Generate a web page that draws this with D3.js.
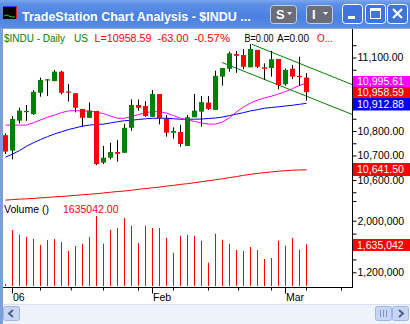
<!DOCTYPE html>
<html><head><meta charset="utf-8">
<script src="https://cdn.jsdelivr.net/npm/d3@7"></script>
<style>
html,body{margin:0;padding:0;background:#fff;overflow:hidden}
svg{display:block}
text{font-family:"Liberation Sans",Arial,sans-serif}
</style></head><body>
<svg id="chart" width="410" height="324"></svg>
<script>
// Daily bars, 30 Dec 2005 – 6 Mar 2006
const dates = ["12/30","1/3","1/4","1/5","1/6","1/9","1/10","1/11","1/12","1/13","1/17","1/18","1/19","1/20","1/23","1/24","1/25","1/26","1/27","1/30","1/31",
  "2/1","2/2","2/3","2/6","2/7","2/8","2/9","2/10","2/13","2/14","2/15","2/16","2/17","2/21","2/22","2/23","2/24","2/27","2/28","3/1","3/2","3/3","3/6"];
const opens  = [10783,10720,10842,10880,10869,10956,11008,11004,11042,10961,10954,10890,10854,10882,10671,10691,10714,10711,10813,10906,10902,
  10858,10951,10849,10793,10796,10739,10856,10879,10916,10886,11022,11054,11114,11110,11060,11131,11060,11057,11094,10991,11054,11025,11018];
const highs  = [10790,10861,10895,10906,10967,11018,11012,11049,11046,10992,10955,10890,10916,10882,10739,10752,10763,10829,10929,10929,10922,
  10967,10951,10865,10815,10825,10865,10951,10943,10943,11046,11058,11124,11127,11134,11155,11131,11076,11127,11094,11055,11069,11103,11036];
const lows   = [10706,10684,10831,10841,10866,10940,10943,11003,10950,10920,10876,10818,10853,10661,10665,10684,10675,10711,10801,10883,10858,
  10858,10827,10777,10769,10736,10739,10856,10818,10886,10886,10985,11042,11037,11052,11060,11057,11008,11022,10970,10985,11012,10984,10924];
const closes = [10716,10849,10883,10882,10960,11008,11011,11042,10956,10958,10895,10854,10883,10665,10691,10714,10707,10813,10906,10895,10861,
  10951,10852,10793,10800,10747,10856,10883,10918,10890,11025,11057,11117,11107,11062,11135,11062,11054,11093,10988,11049,11022,11020,10958.59];

// Moving averages (magenta, blue, red)
const maFast = [10824,10824,10824,10824,10834,10845,10856,10865,10875,10882,10883,10882,10881,10877,10871,10861,10852,10852,10859,10867,10875,
  10879,10879,10873,10863,10852,10845,10839,10833,10828,10828,10837,10854,10878,10898,10914,10926,10935,10942,10951,10961,10973,10986,10995.61];
const maMid  = [10693,10706,10720,10738,10752,10765,10777,10788,10797,10806,10813,10820,10824,10827,10828,10833,10838,10842,10844,10847,10850,
  10852,10852,10852,10850,10848,10848,10848,10849,10851,10853,10857,10863,10869,10875,10882,10887,10893,10896,10899,10902,10905,10909,10912.88];
const maSlow = [10518,10520,10522,10523,10525,10527,10529,10531,10533,10535,10537,10540,10542,10544,10547,10550,10553,10555,10558,10562,10565,
  10568,10571,10575,10578,10582,10585,10589,10593,10597,10601,10605,10610,10614,10619,10623,10627,10630,10633,10636,10638,10640,10641,10641.50];

const volumes = [1018600,1855800,1782900,1751900,1716300,1623300,1700800,1716300,1669800,1530200,1607700,1643400,1747300,2072900,1643400,1855800,
  1886800,2041900,1922500,1654300,1922500,1886800,1886800,1731800,1503900,1767400,1778300,1767400,1689900,1348800,1798400,1705400,1643400,
  1545700,1530200,1592300,1545700,1406200,1421700,1689900,1612400,1731800,1550400,1635042];

// Down-sloping channel drawn as [bar, price] end points
const channelUpper = [[35.2,11154],[50,10984]];
const channelLower = [[30.9,11080],[50,10862]];

const priceTicks = [11100,10800,10700,10600];
const priceMinorTicks = [11150,11050,11000,10950,10900,10850,10750,10650,10550];
const volumeTicks = [1200000,2000000];
const volumeMinorTicks = [1400000,1600000,1800000];
const monthTickBars = [1,21,40];
const monthTickLabels = ["06","Feb","Mar"];
const weekTickBars = [5,9.4,14,19,24,29,33.3,38,43,48];

const n = closes.length;
const svg = d3.select("#chart");

// ---- window chrome ----
const defs = svg.append("defs");
const tg = defs.append("linearGradient").attr("id","titleGrad").attr("x1",0).attr("y1",0).attr("x2",0).attr("y2",1);
tg.append("stop").attr("offset","0%").attr("stop-color","#7aa6ee");
tg.append("stop").attr("offset","15%").attr("stop-color","#5c8fe6");
tg.append("stop").attr("offset","60%").attr("stop-color","#4a80df");
tg.append("stop").attr("offset","100%").attr("stop-color","#5a8fe6");
svg.append("rect").attr("x",0).attr("y",0).attr("width",410).attr("height",28).attr("fill","url(#titleGrad)");
svg.append("rect").attr("x",0).attr("y",28).attr("width",3).attr("height",296).attr("fill","#7c9fd8");
svg.append("rect").attr("x",3).attr("y",28).attr("width",407).attr("height",1).attr("fill","#8aa8d8");

// app icon
const icon = svg.append("g");
icon.append("rect").attr("x",3).attr("y",6).attr("width",14).attr("height",13).attr("fill","#000");
icon.append("rect").attr("x",3).attr("y",6).attr("width",14).attr("height",1).attr("fill","#2040ff");
icon.append("rect").attr("x",16).attr("y",6).attr("width",1).attr("height",13).attr("fill","#e02020");
icon.append("polyline").attr("points","4,16 7,15 9,16 12,17 15,17").attr("fill","none").attr("stroke","#20d020").attr("stroke-width",1);

svg.append("text").attr("x",22).attr("y",20.5).attr("fill","#fff").attr("font-weight","bold")
  .attr("font-size","12.5px").text("TradeStation Chart Analysis - $INDU ...");

function menuButton(x, label){
  const g = svg.append("g");
  g.append("rect").attr("x",x+0.5).attr("y",5.5).attr("width",26).attr("height",18).attr("rx",3)
    .attr("fill","#6b6e78").attr("stroke","#c8cde0");
  g.append("text").attr("x",x+6).attr("y",19).attr("fill","#fff").attr("font-weight","bold").attr("font-size","13px").text(label);
  g.append("path").attr("d",`M${x+17},12 h5 l-2.5,3 z`).attr("fill","#fff");
}
menuButton(270,"S");
menuButton(306,"I");

function capButton(x, kind){
  const g = svg.append("g");
  g.append("rect").attr("x",x+0.5).attr("y",4.5).attr("width",20).attr("height",19).attr("rx",3)
    .attr("fill","#3f74dc").attr("stroke","#fff");
  if(kind==="min") g.append("rect").attr("x",x+6).attr("y",16).attr("width",7).attr("height",3).attr("fill","#fff");
  if(kind==="max"){
    g.append("rect").attr("x",x+5.5).attr("y",8.5).attr("width",10).attr("height",10).attr("fill","none").attr("stroke","#fff");
    g.append("rect").attr("x",x+5).attr("y",8).attr("width",11).attr("height",3).attr("fill","#fff");
  }
  if(kind==="close") g.append("path").attr("d",`M${x+6},9 L${x+15},18 M${x+15},9 L${x+6},18`).attr("stroke","#fff").attr("stroke-width",2.2);
}
capButton(342,"min");
capButton(365,"max");
capButton(387,"close");

// ---- scales ----
const x = d3.scaleLinear().domain([0, n-1]).range([5.5, 5.5 + 7*(n-1)]);
const yP = d3.scaleLinear().domain([10700, 11100]).range([155.5, 57.5]);
const yV = d3.scaleLinear().domain([1200000, 2000000]).range([272.3, 220.7]);
const axisX = 352.5, volBase = 286;

defs.append("clipPath").attr("id","pclip").append("rect").attr("x",3).attr("y",29).attr("width",349).attr("height",173);

// ---- header ----
const header = [
  {t:"$INDU - Daily", c:"#008000", x:4, w:61},
  {t:"US", c:"#008000", x:74, w:14},
  {t:"L=10958.59", c:"#ff0000", x:94.5, w:57},
  {t:"-63.00", c:"#ff0000", x:157.5, w:31},
  {t:"-0.57%", c:"#ff0000", x:194, w:36},
  {t:"B=0.00", c:"#000", x:244.5, w:29},
  {t:"A=0.00", c:"#000", x:277, w:32},
  {t:"O...", c:"#ff0000", x:317, w:16}
];
svg.append("g").selectAll("text").data(header).join("text")
  .attr("x",d=>d.x).attr("y",41.5).attr("fill",d=>d.c).attr("font-size","10px")
  .attr("textLength",d=>d.w).attr("lengthAdjust","spacingAndGlyphs").text(d=>d.t);

// ---- price panel ----
const plot = svg.append("g").attr("clip-path","url(#pclip)");
const line = arr => d3.line().x((d,i)=>x(i)).y(d=>yP(d))(arr);
plot.append("path").attr("d",line(maSlow)).attr("fill","none").attr("stroke","#ff0000").attr("stroke-width",1);
plot.append("path").attr("d",line(maMid)).attr("fill","none").attr("stroke","#0000ff").attr("stroke-width",1);
plot.append("path").attr("d",line(maFast)).attr("fill","none").attr("stroke","#ff00ff").attr("stroke-width",1);

const chan = d3.line().x(d=>x(d[0])).y(d=>yP(d[1]));
[channelUpper, channelLower].forEach(c=>{
  plot.append("path").attr("d",chan(c)).attr("fill","none").attr("stroke","#008000").attr("stroke-width",1);
});

const bars = d3.range(n).map(i=>({i,o:opens[i],h:highs[i],l:lows[i],c:closes[i]}));
const candles = plot.append("g").selectAll("g").data(bars).join("g");
candles.append("line")
  .attr("x1",d=>x(d.i)).attr("x2",d=>x(d.i))
  .attr("y1",d=>yP(d.h)).attr("y2",d=>yP(d.l))
  .attr("stroke","#000").attr("stroke-width",1);
candles.append("rect")
  .attr("x",d=>x(d.i)-2.5).attr("width",5)
  .attr("y",d=>Math.min(yP(d.o),yP(d.c)))
  .attr("height",d=>Math.max(1.2,Math.abs(yP(d.o)-yP(d.c))))
  .attr("fill",d=>d.c>=d.o ? "#008000" : "#ff0000");

// ---- right price axis ----
const pAxis = svg.append("g").attr("transform",`translate(${axisX},0)`)
  .call(d3.axisRight(yP).tickValues(priceTicks).tickFormat(d3.format(",.2f")).tickSize(4).tickPadding(1));
pAxis.select(".domain").remove();
pAxis.selectAll("text").attr("font-size","10.5px").attr("fill","#000").attr("font-family","Liberation Sans, Arial, sans-serif");
pAxis.selectAll("line").attr("stroke","#000");
const pMinor = svg.append("g").attr("transform",`translate(${axisX},0)`)
  .call(d3.axisRight(yP).tickValues(priceMinorTicks).tickFormat("").tickSize(4));
pMinor.select(".domain").remove();
pMinor.selectAll("line").attr("stroke","#000");
svg.append("line").attr("x1",axisX).attr("x2",axisX+4).attr("y1",201.5).attr("y2",201.5).attr("stroke","#000");

// last-value tags: the close tag sits on its value, the averages stack above and below it
const fmt2 = d3.format(",.2f");
const closeTop = Math.round(yP(closes[n-1]) - 5);
const tags = [
  {v: maFast[n-1], c:"#ff00ff", top: closeTop - 11, h: 11},
  {v: closes[n-1], c:"#ff0000", top: closeTop, h: 11},
  {v: maMid[n-1], c:"#0000ff", top: closeTop + 11, h: 12.5},
  {v: maSlow[n-1], c:"#ff0000", top: Math.round(yP(maSlow[n-1]) - 6.5), h: 13}
];
const tagG = svg.append("g").selectAll("g").data(tags).join("g")
  .attr("transform",d=>`translate(${axisX-0.5},${d.top})`);
tagG.append("rect").attr("width",58).attr("height",d=>d.h).attr("fill",d=>d.c);
tagG.append("text").attr("x",5).attr("y",d=>d.h/2+3.6).attr("fill","#fff").attr("font-size","10px")
  .attr("textLength",47).attr("lengthAdjust","spacingAndGlyphs").text(d=>fmt2(d.v));

// ---- volume panel ----
svg.append("text").attr("x",4).attr("y",213).attr("font-size","10.5px").attr("fill","#000").text("Volume ()");
svg.append("text").attr("x",63).attr("y",213).attr("font-size","10.5px").attr("fill","#ff0000").text(d3.format(".2f")(volumes[n-1]));

svg.append("g").selectAll("line").data(volumes).join("line")
  .attr("x1",(d,i)=>x(i)).attr("x2",(d,i)=>x(i))
  .attr("y1",d=>yV(d)).attr("y2",volBase)
  .attr("stroke","#ff0000").attr("stroke-width",1);

const vAxis = svg.append("g").attr("transform",`translate(${axisX},0)`)
  .call(d3.axisRight(yV).tickValues(volumeTicks).tickFormat(d3.format(",")).tickSize(4).tickPadding(1));
vAxis.select(".domain").remove();
vAxis.selectAll("text").attr("font-size","10.5px").attr("fill","#000").attr("font-family","Liberation Sans, Arial, sans-serif");
const vMinor = svg.append("g").attr("transform",`translate(${axisX},0)`)
  .call(d3.axisRight(yV).tickValues(volumeMinorTicks).tickFormat("").tickSize(4));
vMinor.select(".domain").remove();

const vtag = svg.append("g").attr("transform",`translate(${axisX-0.5},${Math.round(yV(volumes[n-1])-5.5)})`);
vtag.append("rect").attr("width",58).attr("height",12).attr("fill","#ff0000");
vtag.append("text").attr("x",5).attr("y",9.8).attr("fill","#fff").attr("font-size","10.5px").text(d3.format(",")(volumes[n-1]));

// axis frame lines
svg.append("line").attr("x1",axisX).attr("x2",axisX).attr("y1",29).attr("y2",288).attr("stroke","#000");
svg.append("line").attr("x1",3).attr("x2",axisX).attr("y1",287.5).attr("y2",287.5).attr("stroke","#000");

// ---- time axis ----
const tAxis = svg.append("g").attr("transform","translate(0,287.5)");
tAxis.selectAll("line.week").data(weekTickBars).join("line")
  .attr("x1",d=>x(d)).attr("x2",d=>x(d)).attr("y1",0).attr("y2",3).attr("stroke","#000");
tAxis.selectAll("line.month").data(monthTickBars).join("line")
  .attr("x1",d=>x(d)).attr("x2",d=>x(d)).attr("y1",0).attr("y2",6).attr("stroke","#000");
tAxis.selectAll("text").data(monthTickBars).join("text")
  .attr("x",d=>x(d)+0.5).attr("y",13.5).attr("font-size","10.5px").attr("fill","#000")
  .text((d,i)=>monthTickLabels[i]);

// ---- scroll bar ----
svg.append("rect").attr("x",3).attr("y",304).attr("width",407).attr("height",20).attr("fill","#eef2fa");
svg.append("rect").attr("x",3).attr("y",304).attr("width",407).attr("height",1).attr("fill","#d8e2f2");
function scrollBtn(xp, kind){
  const g = svg.append("g");
  g.append("rect").attr("x",xp+0.5).attr("y",306.5).attr("width",16).attr("height",14).attr("rx",2)
    .attr("fill","#c6d6f4").attr("stroke","#9fb6e0");
  if(kind==="left") g.append("path").attr("d",`M${xp+10},310 l-4,3.5 l4,3.5`).attr("fill","none").attr("stroke","#4d6185").attr("stroke-width",2);
  if(kind==="right") g.append("path").attr("d",`M${xp+7},310 l4,3.5 l-4,3.5`).attr("fill","none").attr("stroke","#4d6185").attr("stroke-width",2);
  if(kind==="grip") [5,8,11].forEach(o=>g.append("rect").attr("x",xp+o).attr("y",310).attr("width",1).attr("height",7).attr("fill","#7d93c0"));
}
scrollBtn(3,"left");
scrollBtn(375,"grip");
scrollBtn(392,"right");
</script>
</body></html>
